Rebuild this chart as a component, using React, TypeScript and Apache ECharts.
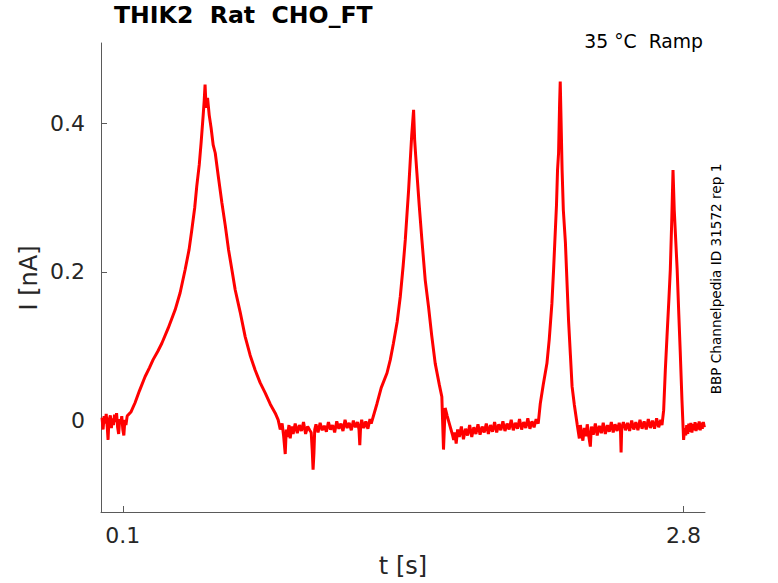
import React, { useEffect, useRef } from "react";
import * as echarts from "echarts";

const titleText = "THIK2  Rat  CHO_FT";
const conditionText = "35 °C  Ramp";
const sideText = "BBP Channelpedia ID 31572 rep 1";
const xTickValues = [0.1, 2.8];
const yTickValues = [0, 0.2, 0.4];

// [time s, current nA], segment by segment
const baseline1 = [
  [0.0, 0.004], [0.005, -0.012], [0.01, 0.006], [0.015, -0.004], [0.02, 0.009], [0.025, -0.008], [0.029, -0.026],
  [0.033, 0.0], [0.04, 0.007], [0.045, -0.01], [0.05, 0.003], [0.055, -0.006], [0.06, 0.008], [0.065, -0.002],
  [0.07, 0.01], [0.075, -0.009], [0.08, -0.018], [0.085, 0.002], [0.09, -0.004], [0.095, 0.006], [0.1, -0.012],
  [0.105, -0.02], [0.11, 0.001], [0.115, -0.006], [0.121, 0.006],
];
const peak1 = [
  [0.14, 0.012], [0.159, 0.024], [0.18, 0.04], [0.207, 0.059], [0.228, 0.071], [0.246, 0.082], [0.268, 0.093], [0.288, 0.104],
  [0.318, 0.124], [0.352, 0.149], [0.376, 0.172], [0.4, 0.203], [0.419, 0.23], [0.432, 0.256], [0.446, 0.286],
  [0.456, 0.315], [0.468, 0.344], [0.477, 0.374], [0.487, 0.411], [0.492, 0.431], [0.496, 0.452], [0.501, 0.421],
  [0.508, 0.434], [0.516, 0.411], [0.525, 0.394], [0.535, 0.371], [0.545, 0.36], [0.559, 0.33], [0.577, 0.293],
  [0.593, 0.263], [0.609, 0.23], [0.627, 0.2], [0.641, 0.176], [0.665, 0.146], [0.689, 0.113], [0.713, 0.088],
  [0.737, 0.068], [0.761, 0.051], [0.786, 0.037], [0.81, 0.022], [0.834, 0.01], [0.848, 0.001], [0.858, -0.012],
  [0.867, -0.004], [0.874, -0.02], [0.882, -0.045], [0.887, -0.012], [0.892, -0.022], [0.9, -0.006],
  [0.906, -0.024], [0.913, -0.008], [0.92, -0.018],
];
const baseline2 = [
  [0.93, -0.004], [0.94, -0.017], [0.95, -0.006], [0.96, -0.014], [0.97, -0.002], [0.98, -0.018], [0.99, -0.008],
  [1.0, -0.013], [1.007, -0.016], [1.012, -0.04], [1.016, -0.066], [1.02, -0.045], [1.024, -0.012], [1.03, -0.005],
  [1.04, -0.016], [1.05, -0.003], [1.06, -0.013], [1.07, -0.007], [1.08, -0.015], [1.09, -0.002], [1.1, -0.012],
  [1.11, -0.006], [1.12, -0.016], [1.13, -0.001], [1.14, -0.011], [1.15, -0.004], [1.16, -0.014], [1.17, 0.001],
  [1.18, -0.01], [1.19, -0.003], [1.2, -0.013], [1.21, 0.0], [1.22, -0.009], [1.23, -0.002], [1.237, -0.012],
  [1.241, -0.033], [1.245, -0.008], [1.25, 0.001], [1.26, -0.01], [1.27, -0.001], [1.28, -0.011], [1.29, 0.002],
  [1.296, -0.004],
];
const peak2 = [
  [1.324, 0.023], [1.344, 0.044], [1.372, 0.064], [1.388, 0.082], [1.403, 0.104], [1.421, 0.133], [1.436, 0.167],
  [1.45, 0.209], [1.46, 0.243], [1.469, 0.281], [1.476, 0.31], [1.484, 0.35], [1.491, 0.384], [1.5, 0.418],
  [1.505, 0.378], [1.51, 0.357], [1.516, 0.333], [1.527, 0.29], [1.54, 0.243], [1.556, 0.189], [1.572, 0.153],
  [1.587, 0.115], [1.604, 0.077], [1.624, 0.048], [1.636, 0.032], [1.644, -0.039], [1.652, 0.017], [1.662, 0.006],
  [1.672, -0.004], [1.68, -0.012], [1.688, -0.02], [1.693, -0.026], [1.699, -0.016], [1.705, -0.031],
];
const baseline3 = [
  [1.712, -0.012], [1.72, -0.022], [1.73, -0.008], [1.74, -0.025], [1.75, -0.011], [1.76, -0.02], [1.77, -0.006],
  [1.78, -0.022], [1.79, -0.009], [1.8, -0.018], [1.81, -0.005], [1.82, -0.019], [1.83, -0.008], [1.84, -0.016],
  [1.85, -0.004], [1.86, -0.018], [1.87, -0.006], [1.88, -0.015], [1.89, -0.002], [1.9, -0.016], [1.91, -0.005],
  [1.92, -0.013], [1.93, -0.001], [1.94, -0.014], [1.95, -0.004], [1.96, -0.012], [1.97, 0.001], [1.98, -0.013],
  [1.99, -0.003], [2.0, -0.011], [2.01, 0.002], [2.02, -0.012], [2.03, -0.002], [2.04, -0.01], [2.05, 0.003],
  [2.06, -0.011], [2.07, -0.001], [2.08, -0.009], [2.09, 0.002], [2.1, -0.004],
];
const peak3 = [
  [2.11, 0.023], [2.124, 0.048], [2.142, 0.077], [2.153, 0.109], [2.166, 0.158], [2.174, 0.203], [2.181, 0.247],
  [2.188, 0.29], [2.193, 0.337], [2.198, 0.36], [2.203, 0.427], [2.206, 0.456], [2.21, 0.404], [2.215, 0.337],
  [2.221, 0.283], [2.231, 0.239], [2.239, 0.183], [2.246, 0.135], [2.255, 0.088], [2.263, 0.046], [2.274, 0.021],
  [2.288, -0.006], [2.298, -0.024],
];
const baseline4 = [
  [2.303, -0.006], [2.308, -0.016], [2.315, -0.027], [2.322, -0.01], [2.33, -0.021], [2.336, -0.005], [2.343, -0.02],
  [2.351, -0.035], [2.356, -0.008], [2.365, -0.019], [2.375, -0.004], [2.384, -0.02], [2.394, -0.007], [2.404, -0.017],
  [2.413, -0.003], [2.423, -0.018], [2.433, -0.006], [2.442, -0.015], [2.452, -0.002], [2.461, -0.016], [2.47, -0.005],
  [2.48, -0.014], [2.49, -0.003], [2.496, -0.012], [2.499, -0.043], [2.502, -0.01], [2.51, -0.002], [2.52, -0.013],
  [2.53, -0.003], [2.54, -0.014], [2.55, 0.0], [2.56, -0.012], [2.57, -0.002], [2.58, -0.013], [2.59, 0.001],
  [2.6, -0.011], [2.61, -0.001], [2.62, -0.012], [2.63, 0.002], [2.64, -0.01], [2.65, 0.0], [2.66, -0.011],
  [2.67, 0.003], [2.68, -0.009], [2.69, 0.001], [2.696, -0.006],
];
const peak4 = [
  [2.704, 0.014], [2.712, 0.068], [2.72, 0.113], [2.729, 0.162], [2.736, 0.203], [2.743, 0.27], [2.749, 0.337],
  [2.755, 0.283], [2.769, 0.203], [2.777, 0.142], [2.784, 0.091], [2.792, 0.028], [2.8, -0.026],
];
const baseline5 = [
  [2.805, -0.01], [2.81, -0.02], [2.815, -0.006], [2.82, -0.018], [2.825, -0.004], [2.83, -0.015], [2.835, -0.003],
  [2.84, -0.016], [2.845, -0.005], [2.85, -0.013], [2.855, -0.002], [2.86, -0.014], [2.865, -0.004], [2.87, -0.012],
  [2.875, -0.001], [2.88, -0.013], [2.885, -0.003], [2.89, -0.011], [2.895, -0.002], [2.9, -0.009],
];

const FONT = "DejaVu Sans";

export default function App() {
  const ref = useRef<HTMLDivElement>(null);
  useEffect(() => {
    if (!ref.current) return;
    const chart = echarts.init(ref.current, null, { renderer: "svg" });
    const data = [
      ...baseline1, ...peak1, ...baseline2, ...peak2, ...baseline3, ...peak3, ...baseline4, ...peak4, ...baseline5,
    ];
    chart.setOption({
      animation: false,
      backgroundColor: "#ffffff",
      grid: { left: 101, right: 73, top: 43, bottom: 71, containLabel: false },
      xAxis: {
        type: "value",
        min: -0.005,
        max: 2.903,
        splitLine: { show: false },
        axisLine: { show: true, onZero: false, lineStyle: { color: "#5a5a5a", width: 1 } },
        axisTick: { show: true, inside: true, length: 6, customValues: xTickValues, lineStyle: { color: "#5a5a5a" } },
        axisLabel: {
          customValues: xTickValues,
          formatter: (v: number) => String(v),
          color: "#262626",
          fontSize: 22,
          fontFamily: FONT,
          margin: 12,
        },
      },
      yAxis: {
        type: "value",
        min: -0.123,
        max: 0.508,
        splitLine: { show: false },
        axisLine: { show: true, onZero: false, lineStyle: { color: "#5a5a5a", width: 1 } },
        axisTick: { show: true, inside: true, length: 6, customValues: yTickValues, lineStyle: { color: "#5a5a5a" } },
        axisLabel: {
          customValues: yTickValues,
          formatter: (v: number) => String(v),
          color: "#262626",
          fontSize: 22,
          fontFamily: FONT,
          margin: 16,
        },
      },
      series: [
        {
          type: "line",
          data,
          showSymbol: false,
          symbol: "none",
          lineStyle: { color: "#ff0000", width: 3 },
        },
      ],
      graphic: [
        {
          type: "text",
          left: 114,
          top: 3,
          style: { text: titleText, font: `bold 23.6px "${FONT}"`, fill: "#000000" },
        },
        {
          type: "text",
          x: 703,
          y: 41,
          style: { text: conditionText, font: `18.8px "${FONT}"`, fill: "#000000", textAlign: "right", textVerticalAlign: "middle" },
        },
        {
          type: "text",
          x: 716,
          y: 279,
          rotation: Math.PI / 2,
          style: { text: sideText, font: `13.6px "${FONT}"`, fill: "#000000", textAlign: "center", textVerticalAlign: "middle" },
        },
        {
          type: "text",
          x: 29,
          y: 278,
          rotation: Math.PI / 2,
          style: { text: "I [nA]", font: `24px "${FONT}"`, fill: "#262626", textAlign: "center", textVerticalAlign: "middle" },
        },
        {
          type: "text",
          x: 403,
          y: 566,
          style: { text: "t [s]", font: `24px "${FONT}"`, fill: "#262626", textAlign: "center", textVerticalAlign: "middle" },
        },
      ],
    });
    return () => chart.dispose();
  }, []);
  return <div ref={ref} style={{ width: 778, height: 583, position: "absolute", left: 0, top: 0 }} />;
}
